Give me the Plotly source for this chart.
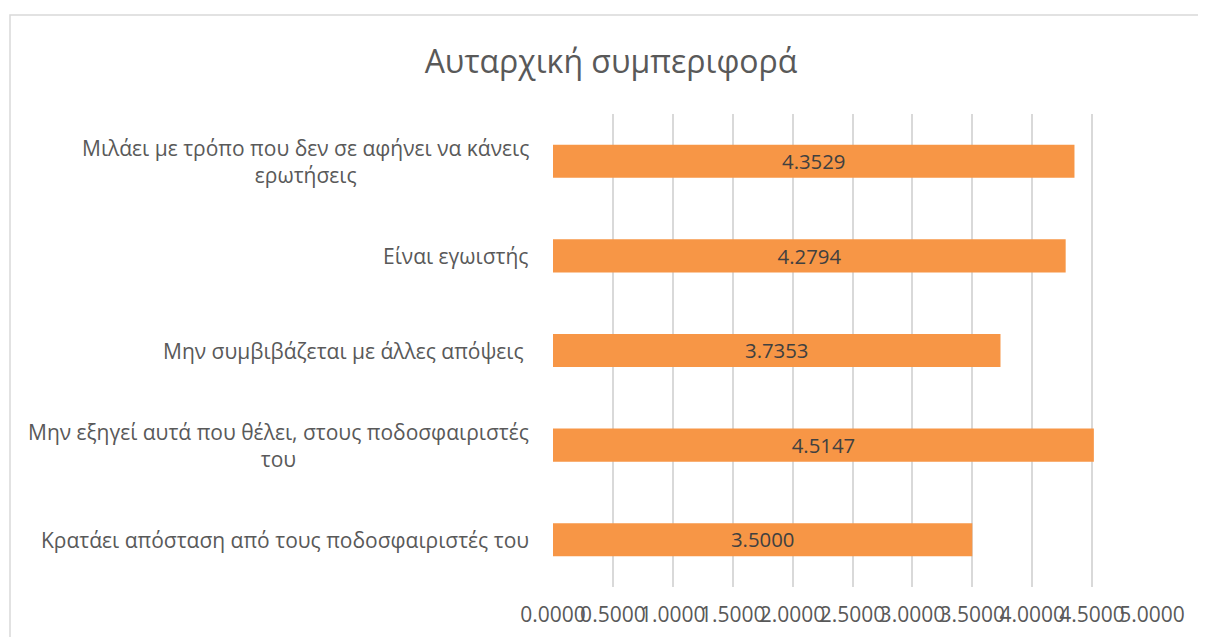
import plotly.graph_objects as go

title_text = "Αυταρχική συμπεριφορά"
categories = [
    "Μιλάει με τρόπο που δεν σε αφήνει να κάνεις<br>ερωτήσεις",
    "Είναι εγωιστής",
    "Μην συμβιβάζεται με άλλες απόψεις ",
    "Μην εξηγεί αυτά που θέλει, στους ποδοσφαιριστές<br>του",
    "Κρατάει απόσταση από τους ποδοσφαιριστές του",
]
values = [4.3529, 4.2794, 3.7353, 4.5147, 3.5000]
tick_vals = [0, 0.5, 1.0, 1.5, 2.0, 2.5, 3.0, 3.5, 4.0, 4.5, 5.0]

# page renders figure offset by 8px (body margin); compensate
OFF = 8
W, H = 1206, 637
L = 553 - OFF
T = 114 - OFF
R = W - (1152 - OFF)
B = H - (587 - OFF)
FONT = "Open Sans"

fig = go.Figure()
fig.add_trace(go.Bar(
    x=values,
    y=list(range(len(categories))),
    orientation="h",
    marker=dict(color="#F79646", line=dict(width=0)),
    texttemplate="%{x:.4f}",
    textposition="inside",
    insidetextanchor="middle",
    textfont=dict(family=FONT, size=21, color="#404040"),
    hoverinfo="skip",
))

# category labels as centered multi-line annotations
for i, c in enumerate(categories):
    fig.add_annotation(
        x=0, xref="paper", y=i, yref="y",
        text=c, showarrow=False, xanchor="right", yanchor="middle",
        align="center", xshift=-22,
        font=dict(family=FONT, size=21, color="#595959"),
    )

pw = W - L - R
ph = H - T - B
fig.add_shape(
    type="rect", xref="paper", yref="paper",
    x0=(10 - OFF - L) / pw, x1=(1215 - L) / pw,
    y0=(H - B - 645) / ph, y1=(H - B - (15 - OFF)) / ph,
    line=dict(color="#D9D9D9", width=1.5), fillcolor="rgba(0,0,0,0)", layer="below",
)

fig.update_layout(
    width=W, height=H,
    margin=dict(l=L, r=R, t=T, b=B, autoexpand=False),
    paper_bgcolor="white", plot_bgcolor="white",
    showlegend=False,
    bargap=0.65,
    title=dict(text=title_text, x=(611 - OFF) / W, xanchor="center",
               y=1 - (62 - OFF) / H, yanchor="middle",
               font=dict(family=FONT, size=32, color="#595959")),
    xaxis=dict(range=[0, 5], tickvals=tick_vals, tickformat=".4f", tickangle=0,
               showgrid=True, gridcolor="#D9D9D9", gridwidth=1.5, zeroline=False,
               showline=False, ticks="", ticklabelstandoff=13,
               tickfont=dict(family=FONT, size=21, color="#595959")),
    yaxis=dict(range=[4.5, -0.5], showticklabels=False, showgrid=False, zeroline=False,
               showline=False, ticks=""),
)

fig.write_html("out.html")
